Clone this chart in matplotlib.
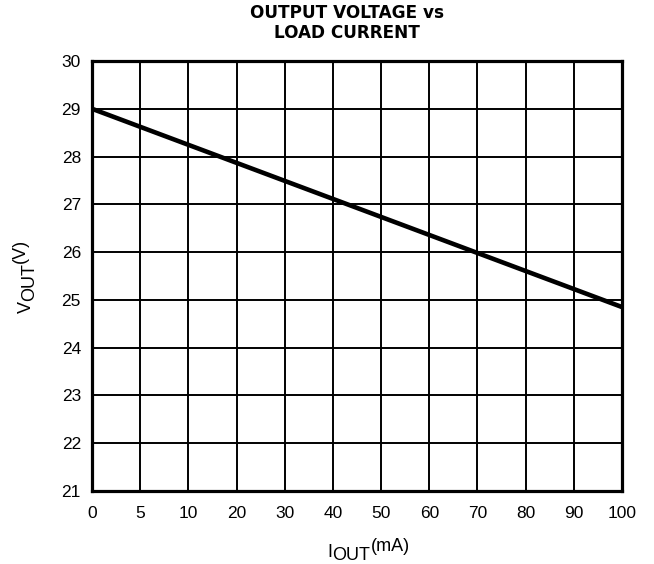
# output voltage vs load current curve
import numpy as np
import matplotlib.pyplot as plt

plt.rcParams['font.family'] = ['Liberation Sans', 'DejaVu Sans']

# x axis labels are equally spaced even though the values are not
x_ticks = [0, 5, 10, 20, 30, 40, 50, 60, 70, 80, 90, 100]
y_ticks = [21, 22, 23, 24, 25, 26, 27, 28, 29, 30]

# line
i_out = [0, 100]
v_out = [29.0, 24.85]

title_lines = ['OUTPUT VOLTAGE vs', 'LOAD CURRENT']
xlabel_parts = ['I', 'OUT', '(mA)']
ylabel_parts = ['V', 'OUT', '(V)']

W, H = 654, 564
fig = plt.figure(figsize=(W / 100, H / 100), dpi=100)
ax = fig.add_axes([92 / W, 1 - 491 / H, 530 / W, 430 / H])

pos = np.arange(len(x_ticks))
x_pos = np.interp(i_out, x_ticks, pos)
ax.plot(x_pos, v_out, color='black', lw=3.3, solid_capstyle='butt', zorder=3)

ax.set_xlim(0, len(x_ticks) - 1)
ax.set_ylim(21, 30)
ax.set_xticks(pos)
ax.set_xticklabels([str(t) for t in x_ticks])
ax.set_yticks(y_ticks)
ax.grid(True, color='black', lw=1.4)
ax.tick_params(length=0, labelsize=12.5)
ax.tick_params(axis='y', pad=8)
ax.tick_params(axis='x', pad=11)
for s in ax.spines.values():
    s.set_linewidth(2.3)
    s.set_zorder(4)

# title, two lines
fig.text(347 / W, 1 - 18 / H, title_lines[0], fontsize=12.2, fontweight='bold',
         family='DejaVu Sans', ha='center', va='baseline')
fig.text(347 / W, 1 - 38 / H, title_lines[1], fontsize=12.2, fontweight='bold',
         family='DejaVu Sans', ha='center', va='baseline')

# axis labels built from pieces: name, subscript, raised unit
renderer = fig.canvas.get_renderer()


def piece(x, y, s, rot):
    t = fig.text(x / W, y / H, s, fontsize=13, rotation=rot, rotation_mode='anchor',
                 ha='left', va='baseline')
    bb = t.get_window_extent(renderer)
    return bb.width if rot == 0 else bb.height


# x label (pixel positions from the bottom left)
x0 = 327.5
x0 += piece(x0, H - 556.7, xlabel_parts[0], 0)
x0 += piece(x0, H - 560, xlabel_parts[1], 0)
piece(x0, H - 551, xlabel_parts[2], 0)

# y label, rotated
y0 = H - 313
y0 += piece(30.7, y0, ylabel_parts[0], 90)
y0 += piece(34, y0, ylabel_parts[1], 90)
piece(25, y0, ylabel_parts[2], 90)

plt.savefig('out.png')
